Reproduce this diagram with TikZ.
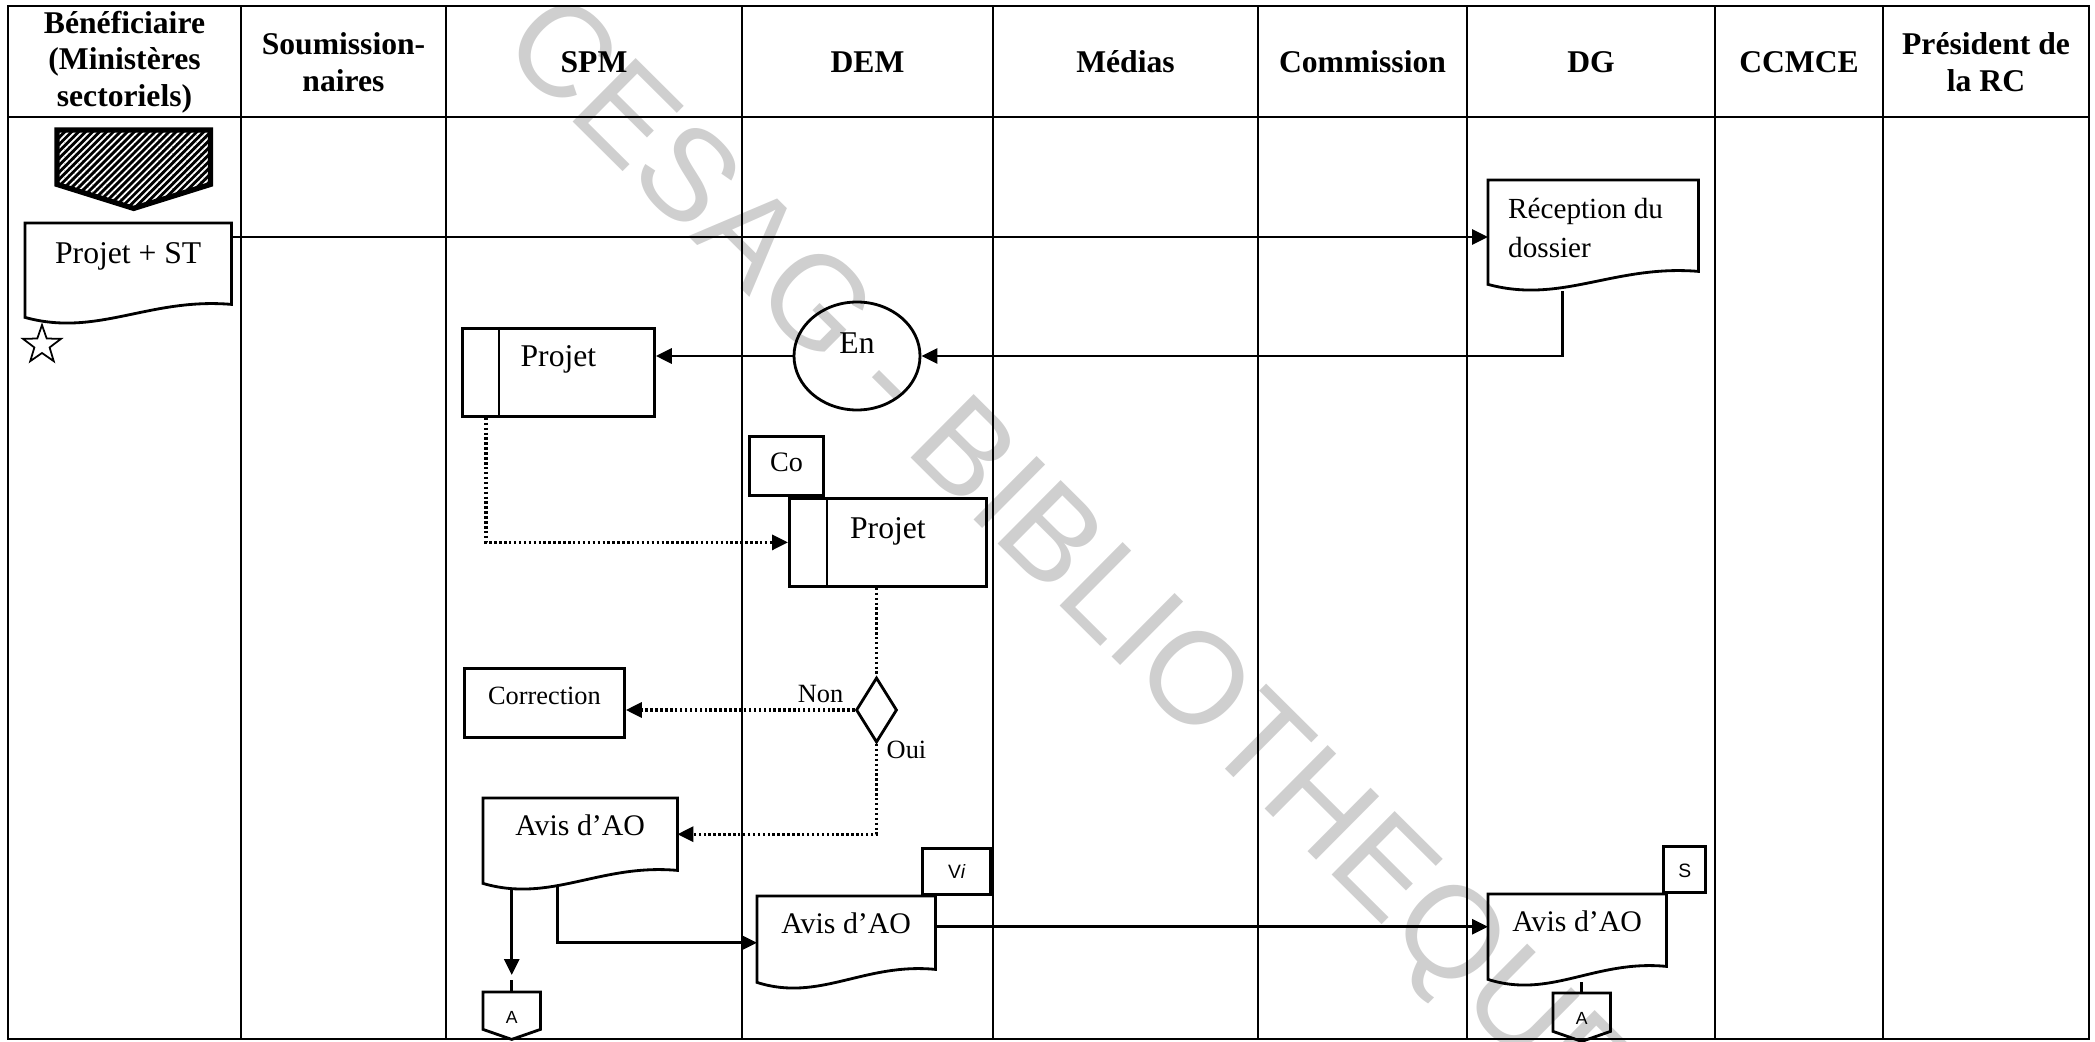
\documentclass[tikz,border=0pt]{standalone}
\usepackage{fontspec}
\setmainfont{Liberation Serif}
\setsansfont{Liberation Sans}
\newfontfamily\wmfont{Liberation Sans}
\usetikzlibrary{shapes,arrows.meta}
\tikzstyle{line} = [draw, line width=0.85pt, -{Triangle[length=1.6mm,width=1.5mm]}]
\tikzstyle{dotline} = [line, dash pattern=on 0.7pt off 0.7pt, line width=0.9pt]
\usetikzlibrary{calc}
\usetikzlibrary{patterns.meta}

\tikzset{
	lane/.style={line width=0.7pt},
	outl/.style={draw, line width=0.8pt},
	head/.style={align=center, inner sep=0pt, font=\bfseries\fontsize{9}{10.4}\selectfont},
	doc/.style={inner sep=0pt, anchor=north west},
	box/.style={doc, outl},
	tag/.style={outl, inner sep=0pt, anchor=south west, font=\sffamily\fontsize{5.5}{6}\selectfont},
	lbl/.style={inner sep=0pt, font=\fontsize{7.5}{9}\selectfont},
	wmark/.style={inner sep=0pt, text=black!19, font=\wmfont\fontsize{37}{37}\selectfont}
}

% document symbol with wavy bottom
\newcommand{\docwave}[1]{%
	\draw[outl] (#1.north west) -- (#1.north east) -- (#1.south east)
	.. controls ($(#1.south west)!0.6!(#1.south east)+(0,-7)$)
	and ($(#1.south west)!0.35!(#1.south east)+(0,33)$) .. ([yshift=-1.3mm]#1.south west) -- cycle;}
% off-page connector
\newcommand{\conn}[1]{%
	\draw[outl] (#1.north west) -- (#1.north east) -- (#1.south east) -- ([yshift=-1mm]#1.south) -- (#1.south west) -- cycle;}

\begin{document}
\begin{tikzpicture}[x=0.1mm,y=-0.1mm]
\useasboundingbox (0,0) rectangle (2095,1042);

%\draw[help lines] (0,0) grid[step=100] (2095,1042);

\begin{scope}
\clip (0,0) rectangle (2095,1042);
\node[wmark, rotate=-44.8, anchor=mid west] (wm) at (504,42) {CESAG - BIBLIOTHEQUE};
\end{scope}

\draw[lane] (8,6) rectangle (2089,1039);
\draw[lane] (8,117) -- (2089,117);
\foreach \x in {241,446,742,993,1258,1467,1715,1883} {
	\draw[lane] (\x,6) -- (\x,1039);
}

\node[head] (hben) at (124.5,62) {Bénéficiaire\\(Ministères\\sectoriels)};
\node[head] (hsoum) at (343.5,62) {Soumission-\\naires};
\node[head] (hspm) at (594,62) {SPM};
\node[head] (hdem) at (867.5,62) {DEM};
\node[head] (hmed) at (1125.5,62) {Médias};
\node[head] (hcom) at (1362.5,62) {Commission};
\node[head] (hdg) at (1591,62) {DG};
\node[head] (hccm) at (1799,62) {CCMCE};
\node[head] (hpre) at (1986,62) {Président de\\la RC};

\node[doc, minimum width=15.2mm, minimum height=5.3mm] (debut) at (57,130) {};
\path[draw, line width=1.5pt, preaction={fill=black},
	preaction={pattern={Lines[angle=45,distance=1.4pt,line width=0.5pt]}, pattern color=white}]
	(debut.north west) -- (debut.north east) -- (debut.south east) -- ([yshift=-2.4mm]debut.south) -- (debut.south west) -- cycle;

\node[doc, minimum width=20.5mm, text height=4mm, text depth=4mm, font=\fontsize{9}{11}\selectfont] (projst) at (25,223) {Projet + ST};
\docwave{projst}
\node[star, star points=5, star point ratio=2.5, draw, line width=0.5pt, minimum size=4mm, inner sep=0pt] (etoile) at (42,345) {};

\node[doc, minimum width=20.9mm, text height=3.8mm, text depth=5.2mm, font=\fontsize{8.3}{11.1}\selectfont] (recep) at (1488,180) {\parbox[t]{17mm}{Réception du\\dossier}};
\docwave{recep}

\node[ellipse, outl, minimum width=12.6mm, minimum height=10.8mm, inner sep=0pt, text height=2mm, text depth=2.4mm, font=\fontsize{9}{11}\selectfont] (en) at (857,356) {En};

\node[box, minimum width=19.2mm, text height=3.8mm, text depth=5mm, font=\fontsize{9}{11}\selectfont] (spmproj) at (461,327) {Projet};
\draw[outl] ([xshift=3.8mm]spmproj.north west) -- ([xshift=3.8mm]spmproj.south west);

\node[box, minimum width=19.7mm, text height=4mm, text depth=4.8mm, font=\fontsize{9}{11}\selectfont] (demproj) at (788,497) {Projet};
\draw[outl] ([xshift=3.9mm]demproj.north west) -- ([xshift=3.9mm]demproj.south west);
\node[tag, minimum width=7.4mm, text height=3.5mm, text depth=2.4mm, font=\fontsize{8}{9}\selectfont] (co) at ([xshift=-4mm]demproj.north west) {Co};

\node[diamond, outl, minimum width=4.1mm, minimum height=6.5mm, inner sep=0pt] (dec) at (876.5,710) {};
\node[box, minimum width=16mm, text height=3.6mm, text depth=3.3mm, font=\fontsize{7.5}{9}\selectfont] (corr) at (463,667) {Correction};
\node[lbl, anchor=base east] (non) at (844,702) {Non};
\node[lbl, anchor=base west] (oui) at (886,758) {Oui};

\node[doc, minimum width=19.3mm, text height=3.7mm, text depth=3.4mm, font=\fontsize{8.5}{10}\selectfont] (avis1) at (483,798) {Avis d’AO};
\docwave{avis1}
\node[doc, minimum width=17.7mm, text height=3.7mm, text depth=3.5mm, font=\fontsize{8.5}{10}\selectfont] (avis2) at (757,896) {Avis d’AO};
\docwave{avis2}
\node[tag, minimum width=6.8mm, text height=3mm, text depth=1.6mm] (vi) at ([xshift=-1.4mm]avis2.north east) {V\textit{i}};
\node[doc, minimum width=17.7mm, text height=3.7mm, text depth=3.4mm, font=\fontsize{8.5}{10}\selectfont] (avis3) at (1488,894) {Avis d’AO};
\docwave{avis3}
\node[tag, minimum width=4.2mm, text height=3.1mm, text depth=1.5mm] (sig) at ([xshift=-0.4mm]avis3.north east) {S};

\node[doc, minimum width=5.6mm, text height=3.1mm, text depth=0.5mm, font=\sffamily\fontsize{5}{6}\selectfont] (conA1) at (483,992) {A};
\conn{conA1}
\node[doc, minimum width=5.6mm, text height=3.1mm, text depth=0.6mm, font=\sffamily\fontsize{5}{6}\selectfont] (conA2) at (1553,993) {A};
\conn{conA2}

% flows
\coordinate (pst) at ([yshift=-1.4mm]projst.north east);
\draw[line] (pst) -- (pst -| recep.west);
\coordinate (rcb) at ([shift={(7.4mm,-2mm)}]recep.south west);
\draw[line] (rcb) |- (en.east);
\draw[line] (en.west) -- (en.west -| spmproj.east);
\draw[dotline] ([xshift=2.5mm]spmproj.south west) |- (demproj.west);
\draw[dotline, -] (dec.north |- demproj.south) -- (dec.north);
\draw[dotline] (dec.west) -- (dec.west -| corr.east);
\draw[dotline] (dec.south) |- (avis1.east);

\coordinate (a1w) at ([yshift=-1.8mm]avis1.south west);
\draw[line, shorten >=1.7mm] (conA1.north |- a1w) -- (conA1.north);
\draw[outl] (conA1.north) -- ++(0,-12);
\coordinate (a1r) at ([shift={(7.4mm,-1.6mm)}]avis1.south west);
\draw[line] (a1r) |- ([yshift=-1mm]avis2.west);
\coordinate (a2e) at ([yshift=0.6mm]avis2.east);
\draw[line] (a2e) -- (a2e -| avis3.west);
\draw[outl] (conA2.north) -- ++(0,-11);

\end{tikzpicture}
\end{document}
